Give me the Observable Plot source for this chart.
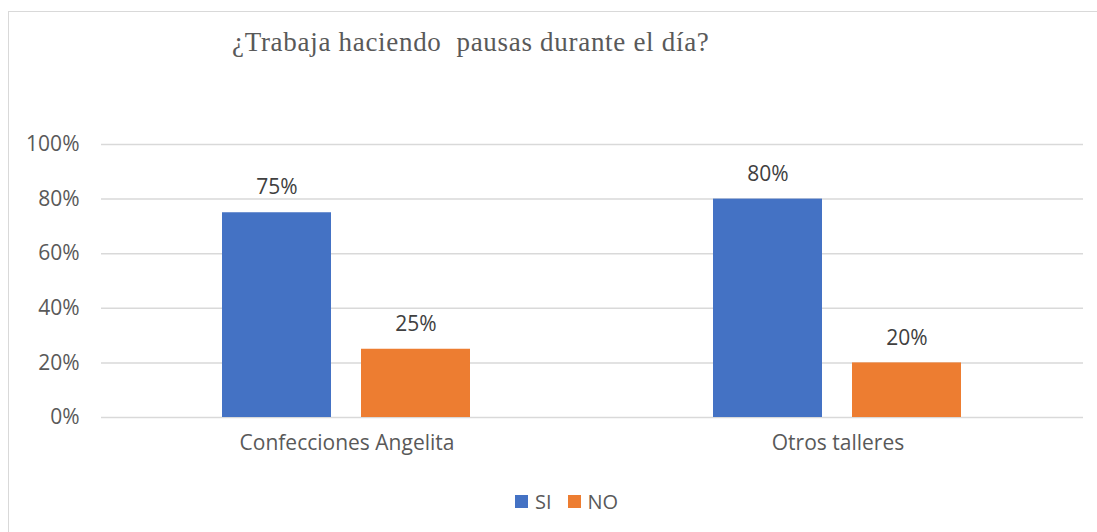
<!DOCTYPE html>
<html>
<head>
<meta charset="utf-8">
<script src="https://cdn.jsdelivr.net/npm/d3@7"></script>
<script src="https://cdn.jsdelivr.net/npm/@observablehq/plot@0.6"></script>
<style>
  html, body { margin: 0; padding: 0; background: #fff; width: 1097px; height: 532px; overflow: hidden; }
  #frame { position: absolute; left: 8px; top: 11px; width: 1100px; height: 530px; border: 1.5px solid #d9d9d9; box-sizing: border-box; }
  #title { position: absolute; left: 232px; top: 27px; font-family: "Liberation Serif", "Times New Roman", serif; font-size: 27px; color: #595959; white-space: pre; letter-spacing: 0.7px; }
  #chart { position: absolute; left: 0; top: 0; }
  #legend { position: absolute; top: 488px; left: 515px; font-family: "Open Sans", sans-serif; font-size: 20px; color: #595959; display: flex; align-items: center; }
  #legend .sw { width: 13px; height: 13px; display: inline-block; margin-right: 7px; }
  #legend .item { display: flex; align-items: center; margin-right: 16px; }
</style>
</head>
<body>
<div id="frame"></div>
<div id="chart"></div>
<div id="title">¿Trabaja haciendo  pausas durante el día?</div>
<div id="legend"></div>
<script>
const categories = ["Confecciones Angelita", "Otros talleres"];
const series = ["SI", "NO"];
const siValues = [0.75, 0.80];
const noValues = [0.25, 0.20];
const yTicks = [0, 0.2, 0.4, 0.6, 0.8, 1.0];
const colors = ["#4472C4", "#ED7D31"];

const data = categories.flatMap((c, i) => [
  {cat: c, s: series[0], v: siValues[i]},
  {cat: c, s: series[1], v: noValues[i]}
]);
const pct = d => Math.round(d * 100) + "%";

const chart = Plot.plot({
  width: 1097,
  height: 470,
  marginLeft: 101,
  marginRight: 14,
  marginTop: 144,
  marginBottom: 53,
  style: {fontFamily: "'Open Sans', sans-serif", fontSize: "21px", background: "transparent", overflow: "visible"},
  fx: {domain: categories, padding: 0, label: null},
  x: {domain: series, paddingInner: 0.214, paddingOuter: 0.864, axis: null},
  y: {domain: [0, 1], label: null},
  color: {domain: series, range: colors},
  marks: [
    Plot.gridY(yTicks, {stroke: "#d9d9d9", strokeOpacity: 1, strokeWidth: 1.5}),
    Plot.axisY(yTicks, {tickSize: 0, tickPadding: 22, fontSize: 21, fill: "#595959", tickFormat: pct, label: null}),
    Plot.barY(data, {fx: "cat", x: "s", y: "v", fill: "s"}),
    Plot.text(data, {fx: "cat", x: "s", y: "v", text: d => pct(d.v), dy: -25, fontSize: 21, fill: "#404040"}),
    Plot.axisFx({anchor: "bottom", tickSize: 0, tickPadding: 18, fontSize: 21, fill: "#595959", label: null})
  ]
});
document.getElementById("chart").appendChild(chart);

const legend = document.getElementById("legend");
series.forEach((s, i) => {
  const item = document.createElement("span");
  item.className = "item";
  const sw = document.createElement("span");
  sw.className = "sw";
  sw.style.background = colors[i];
  item.appendChild(sw);
  item.appendChild(document.createTextNode(s));
  legend.appendChild(item);
});
</script>
</body>
</html>
